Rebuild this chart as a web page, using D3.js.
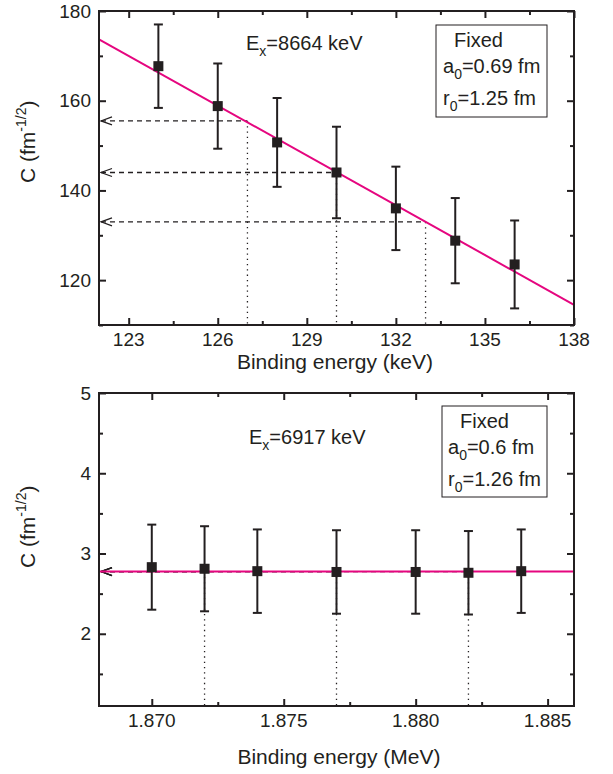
<!DOCTYPE html>
<html>
<head>
<meta charset="utf-8">
<script src="https://cdn.jsdelivr.net/npm/d3@7"></script>
<style>
  html, body { margin: 0; padding: 0; background: #fff; }
  svg text { font-family: "Liberation Sans", Arial, sans-serif; fill: #231f20; }
</style>
</head>
<body>
<svg id="chart" width="613" height="774"></svg>
<script>
// ---- data ----
// upper panel, Ex = 8664 keV
var topEnergy = [124, 126, 128, 130, 132, 134, 136];
var topC      = [167.7, 158.8, 150.7, 144.0, 136.0, 128.8, 123.5];
var topErr    = [9.3, 9.5, 9.9, 10.2, 9.3, 9.5, 9.8];
var topFitE   = [122, 138];
var topFitC   = [173.7, 114.5];
var topReadE  = [127, 130, 133];
var topReadC  = [155.5, 144.0, 133.0];
var topXTicks = [123, 126, 129, 132, 135, 138];
var topYTicks = [120, 140, 160, 180];

// lower panel, Ex = 6917 keV
var botEnergy = [1.870, 1.872, 1.874, 1.877, 1.880, 1.882, 1.884];
var botC      = [2.83, 2.81, 2.78, 2.77, 2.77, 2.76, 2.78];
var botErr    = [0.53, 0.53, 0.52, 0.52, 0.52, 0.52, 0.52];
var botFitE   = [1.868, 1.886];
var botFitC   = [2.775, 2.775];
var botReadE  = [1.872, 1.877, 1.882];
var botReadC  = [2.775, 2.775, 2.775];
var botXTicks = [1.870, 1.875, 1.880, 1.885];
var botYTicks = [2, 3, 4, 5];

var pink = '#e5067f',
    ink = '#231f20';

var svg = d3.select('#chart');

function drawPanel(cfg) {
  var x = d3.scaleLinear().domain(cfg.xDomain).range([cfg.left, cfg.right]);
  var y = d3.scaleLinear().domain(cfg.yDomain).range([cfg.bottom, cfg.top]);
  var g = svg.append('g');

  // ticks (inward, mirrored on all four sides)
  function tickAxis(axis, scale, vals, size, tr) {
    var a = g.append('g')
      .attr('transform', tr)
      .call(axis(scale).tickValues(vals).tickSize(size).tickFormat(''));
    a.select('.domain').remove();
    a.selectAll('line').attr('stroke', ink).attr('stroke-width', 2);
  }
  tickAxis(d3.axisBottom, x, cfg.xTicks, -7, 'translate(0,' + cfg.bottom + ')');
  tickAxis(d3.axisBottom, x, cfg.xMinor, -4, 'translate(0,' + cfg.bottom + ')');
  tickAxis(d3.axisTop, x, cfg.xTicks, -7, 'translate(0,' + cfg.top + ')');
  tickAxis(d3.axisTop, x, cfg.xMinor, -4, 'translate(0,' + cfg.top + ')');
  tickAxis(d3.axisLeft, y, cfg.yTicks, -7, 'translate(' + cfg.left + ',0)');
  tickAxis(d3.axisLeft, y, cfg.yMinor, -4, 'translate(' + cfg.left + ',0)');
  tickAxis(d3.axisRight, y, cfg.yTicks, -7, 'translate(' + cfg.right + ',0)');
  tickAxis(d3.axisRight, y, cfg.yMinor, -4, 'translate(' + cfg.right + ',0)');

  // tick labels
  g.selectAll('.xl').data(cfg.xTicks).enter().append('text')
    .attr('x', function(d) { return x(d); })
    .attr('y', cfg.bottom + 21)
    .attr('text-anchor', 'middle')
    .style('font-size', '19px')
    .text(cfg.xFormat);
  g.selectAll('.yl').data(cfg.yTicks).enter().append('text')
    .attr('x', cfg.left - 8)
    .attr('y', function(d) { return y(d); })
    .attr('dy', '0.35em')
    .attr('text-anchor', 'end')
    .style('font-size', '19px')
    .text(function(d) { return d; });

  // read-off lines: dashed to the axis with an open arrow, dotted down
  cfg.readE.forEach(function(e, i) {
    var px = x(e), py = y(cfg.readC[i]);
    g.append('line')
      .attr('x1', cfg.left + 2).attr('x2', px).attr('y1', py).attr('y2', py)
      .attr('stroke', ink).attr('stroke-width', 1.3).attr('stroke-dasharray', '5,4');
    g.append('path')
      .attr('d', 'M' + (cfg.left + 13) + ',' + (py - 4) + 'L' + (cfg.left + 2) + ',' + py + 'L' + (cfg.left + 13) + ',' + (py + 4))
      .attr('fill', 'none').attr('stroke', ink).attr('stroke-width', 1.2);
    g.append('line')
      .attr('x1', px).attr('x2', px).attr('y1', py).attr('y2', cfg.bottom)
      .attr('stroke', ink).attr('stroke-width', 1.3).attr('stroke-dasharray', '1.3,4');
  });

  // fit line
  var fit = cfg.fitE.map(function(e, i) { return [e, cfg.fitC[i]]; });
  g.append('path')
    .datum(fit)
    .attr('d', d3.line().x(function(d) { return x(d[0]); }).y(function(d) { return y(d[1]); }))
    .attr('fill', 'none').attr('stroke', pink).attr('stroke-width', 2);

  // error bars + square markers
  var pts = cfg.energy.map(function(e, i) { return {e: e, c: cfg.c[i], err: cfg.err[i]}; });
  var eb = g.selectAll('.eb').data(pts).enter().append('g');
  eb.append('line')
    .attr('x1', function(d) { return x(d.e); }).attr('x2', function(d) { return x(d.e); })
    .attr('y1', function(d) { return y(d.c - d.err); }).attr('y2', function(d) { return y(d.c + d.err); })
    .attr('stroke', ink).attr('stroke-width', 2);
  [-1, 1].forEach(function(s) {
    eb.append('line')
      .attr('x1', function(d) { return x(d.e) - 4.5; }).attr('x2', function(d) { return x(d.e) + 4.5; })
      .attr('y1', function(d) { return y(d.c + s * d.err); }).attr('y2', function(d) { return y(d.c + s * d.err); })
      .attr('stroke', ink).attr('stroke-width', 2);
  });
  eb.append('rect')
    .attr('x', function(d) { return x(d.e) - 5; })
    .attr('y', function(d) { return y(d.c) - 5; })
    .attr('width', 10).attr('height', 10)
    .attr('fill', ink);

  // frame
  g.append('rect')
    .attr('x', cfg.left).attr('y', cfg.top)
    .attr('width', cfg.right - cfg.left).attr('height', cfg.bottom - cfg.top)
    .attr('fill', 'none').attr('stroke', ink).attr('stroke-width', 2);

  // Ex label
  var ex = g.append('text')
    .attr('x', cfg.exPos[0]).attr('y', cfg.exPos[1])
    .style('font-size', '20px');
  ex.append('tspan').text('E');
  ex.append('tspan').attr('dy', 6).style('font-size', '14px').text('x');
  ex.append('tspan').attr('dy', -6).text(cfg.exText);

  // parameter box
  var b = cfg.box;
  g.append('rect')
    .attr('x', b.x).attr('y', b.y).attr('width', b.w).attr('height', b.h)
    .attr('fill', '#fff').attr('stroke', ink).attr('stroke-width', 1);
  g.append('text').attr('x', b.fx).attr('y', b.y + 22).style('font-size', '20px').text('Fixed');
  b.lines.forEach(function(l, i) {
    var t = g.append('text').attr('x', b.tx).attr('y', b.y + 48 + i * 32).style('font-size', '20px');
    t.append('tspan').text(l[0]);
    t.append('tspan').attr('dy', 6).style('font-size', '14px').text('0');
    t.append('tspan').attr('dy', -6).text(l[1]);
  });

  // axis titles
  g.append('text')
    .attr('x', cfg.xTitlePos[0]).attr('y', cfg.xTitlePos[1])
    .attr('text-anchor', 'middle')
    .style('font-size', '21px')
    .text(cfg.xTitle);
  var yt = g.append('text')
    .attr('transform', 'translate(' + 35 + ',' + cfg.yTitleStart + ') rotate(-90)')
    .style('font-size', '21px');
  yt.append('tspan').text('C (fm');
  yt.append('tspan').attr('dy', -9).style('font-size', '14px').text('-1/2');
  yt.append('tspan').attr('dy', 9).text(')');
}

drawPanel({
  left: 99, right: 574, top: 11, bottom: 325,
  xDomain: [122, 138], yDomain: [110, 180],
  xTicks: topXTicks, xMinor: [124.5, 127.5, 130.5, 133.5, 136.5],
  yTicks: topYTicks, yMinor: [110, 130, 150, 170],
  xFormat: function(d) { return d; },
  energy: topEnergy, c: topC, err: topErr,
  fitE: topFitE, fitC: topFitC,
  readE: topReadE, readC: topReadC,
  exPos: [246, 50], exText: '=8664 keV',
  box: {x: 436, y: 25, w: 111, h: 92, fx: 454, tx: 443, lines: [['a', '=0.69 fm'], ['r', '=1.25 fm']]},
  xTitle: 'Binding energy (keV)', xTitlePos: [335, 369],
  yTitleStart: 183
});

drawPanel({
  left: 99, right: 574, top: 393, bottom: 706,
  xDomain: [1.868, 1.886], yDomain: [1.1, 5],
  xTicks: botXTicks, xMinor: [1.8725, 1.8775, 1.8825],
  yTicks: botYTicks, yMinor: [1.5, 2.5, 3.5, 4.5],
  xFormat: d3.format('.3f'),
  energy: botEnergy, c: botC, err: botErr,
  fitE: botFitE, fitC: botFitC,
  readE: botReadE, readC: botReadC,
  exPos: [249, 444], exText: '=6917 keV',
  box: {x: 442, y: 406, w: 105, h: 91, fx: 460, tx: 448, lines: [['a', '=0.6 fm'], ['r', '=1.26 fm']]},
  xTitle: 'Binding energy (MeV)', xTitlePos: [339, 764],
  yTitleStart: 568
});
</script>
</body>
</html>
